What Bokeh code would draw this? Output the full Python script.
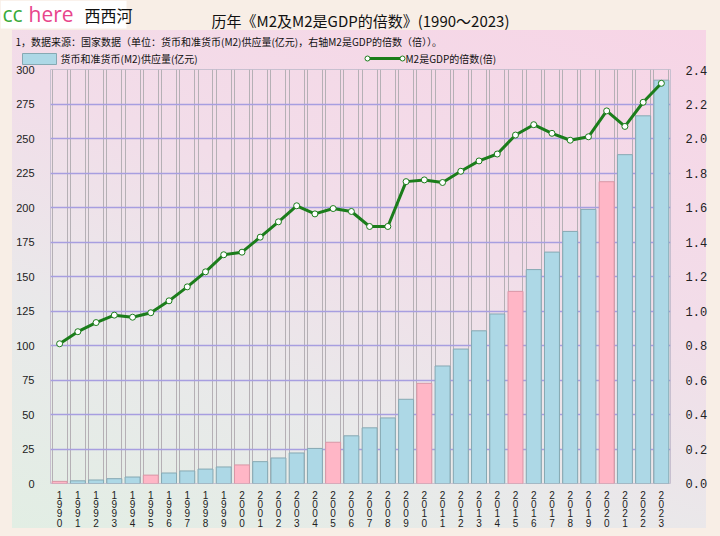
from bokeh.plotting import figure
from bokeh.layouts import column
from bokeh.models import Range1d, LinearAxis, FixedTicker, ColumnDataSource
from bokeh.core.properties import value
from bokeh.embed import file_html
from bokeh.resources import INLINE

years = list(range(1990, 2024))
m2 = [1.53, 1.93, 2.54, 3.49, 4.69, 6.08, 7.60, 9.10, 10.45, 11.99,
      13.46, 15.83, 18.50, 22.12, 25.41, 29.88, 34.56, 40.34, 47.52, 61.02,
      72.59, 85.16, 97.42, 110.65, 122.84, 139.23, 155.01, 167.68, 182.67, 198.65,
      218.68, 238.29, 266.43, 292.27]
ratio = [0.81, 0.88, 0.933, 0.976, 0.964, 0.99, 1.059, 1.14, 1.227, 1.326,
         1.341, 1.428, 1.517, 1.61, 1.563, 1.594, 1.577, 1.49, 1.49, 1.75,
         1.76, 1.745, 1.81, 1.87, 1.91, 2.02, 2.08, 2.03, 1.99, 2.01,
         2.16, 2.07, 2.21, 2.32]
left_ticks = list(range(0, 301, 25))
right_ticks = [0.0, 0.2, 0.4, 0.6, 0.8, 1.0, 1.2, 1.4, 1.6, 1.8, 2.0, 2.2, 2.4]

title_text = "历年《M2及M2是GDP的倍数》(1990～2023)"
note_text = "1，数据来源：国家数据（单位：货币和准货币(M2)供应量(亿元)，右轴M2是GDP的倍数（倍））。"
bar_name = "货币和准货币(M2)供应量(亿元)"
line_name = "M2是GDP的倍数(倍)"

BLUE = "#add8e6"
PINK = "#ffb6c6"
GREEN = "#1b7d1b"
PAGE = "#f8eee6"
PANEL = "linear-gradient(200deg, #f7d5e6 0%, #f2dde9 40%, #e9e9ea 70%, #e2eee4 100%)"
CJK = "Noto Sans CJK SC"

HEAD_H = 65
MAIN_H = 536 - HEAD_H

# ---------------- header (title, note, legend, watermark) ----------------
h = figure(width=720, height=HEAD_H, output_backend="svg", toolbar_location=None,
           x_range=Range1d(0, 720), y_range=Range1d(HEAD_H, 0),
           x_axis_location=None, y_axis_location=None,
           min_border=0, min_border_left=0, min_border_right=0,
           min_border_top=0, min_border_bottom=0)
h.frame_align = False
h.grid.visible = False
h.outline_line_color = None
h.border_fill_color = None
h.background_fill_color = None
h.styles = {"background": f"{PANEL} 12px 30px / 694px 498px no-repeat, {PAGE}"}

h.text(x=[360], y=[20], text=[title_text], text_align="center", text_baseline="middle",
       text_font=value(CJK), text_font_size="15px", text_color="#111111")
h.text(x=[15], y=[41], text=[note_text], text_align="left", text_baseline="middle",
       text_font=value(CJK), text_font_size="10px", text_color="#111111")

# legend
h.quad(left=[22], right=[56], top=[53], bottom=[64], fill_color=BLUE, line_color="#86a9b3")
h.text(x=[60], y=[58], text=[bar_name], text_align="left", text_baseline="middle",
       text_font=value(CJK), text_font_size="10px", text_color="#111111")
h.line(x=[367, 402], y=[58, 58], line_color=GREEN, line_width=3)
h.scatter(x=[367, 402], y=[58, 58], size=5, marker="circle", fill_color="white",
          line_color=GREEN, line_width=1)
h.text(x=[405], y=[58], text=[line_name], text_align="left", text_baseline="middle",
       text_font=value(CJK), text_font_size="10px", text_color="#111111")

# watermark
h.quad(left=[0], right=[126], top=[0], bottom=[28], fill_color="white", line_color=None)
h.text(x=[2], y=[13], text=["cc"], text_baseline="middle", text_font=value("Open Sans"),
       text_font_size="21px", text_color="#3aaa3a")
h.text(x=[28], y=[13], text=["here"], text_baseline="middle", text_font=value("Open Sans"),
       text_font_size="21px", text_color="#e8458b")
h.text(x=[84], y=[14], text=["西西河"], text_baseline="middle", text_font=value(CJK),
       text_font_size="16px", text_color="#111111")

# ---------------- main chart ----------------
colors = [PINK if y % 5 == 0 else BLUE for y in years]
lcolors = ["#d996a6" if y % 5 == 0 else "#86a9b3" for y in years]
src = ColumnDataSource(dict(x=years, top=m2, color=colors, lcolor=lcolors))
lsrc = ColumnDataSource(dict(x=years, r=ratio))

p = figure(width=720, height=MAIN_H, output_backend="svg", toolbar_location=None,
           x_range=Range1d(years[0] - 0.5, years[-1] + 0.5),
           y_range=Range1d(0, 300),
           min_border_left=50, min_border_right=50, min_border_top=69 - HEAD_H,
           min_border_bottom=53)
p.frame_align = False
p.extra_y_ranges = {"r": Range1d(0, 2.4)}
p.border_fill_color = None
p.background_fill_color = None
p.outline_line_color = "#c8c0d0"
p.styles = {"background": f"{PANEL} 12px {30 - HEAD_H}px / 694px 498px no-repeat, {PAGE}"}

bw = 0.82
p.vbar(x="x", top="top", width=bw, source=src, fill_color="color",
       line_color="lcolor", line_width=1)
p.line(x="x", y="r", source=lsrc, y_range_name="r", line_color=GREEN, line_width=3)
p.scatter(x="x", y="r", source=lsrc, y_range_name="r", size=6, marker="circle",
          fill_color="white", line_color=GREEN, line_width=1)

# grids
p.ygrid.ticker = FixedTicker(ticks=left_ticks)
p.ygrid.grid_line_color = "#a79ee0"
p.ygrid.grid_line_width = 1.5
edges = [y - bw / 2 for y in years] + [y + bw / 2 for y in years]
p.xgrid.ticker = FixedTicker(ticks=edges)
p.xgrid.grid_line_color = "#b5b0b5"
p.xgrid.grid_line_width = 1

# axes
xa = p.xaxis[0]
xa.ticker = FixedTicker(ticks=years)
xa.major_label_overrides = {y: "\n".join(str(y)) for y in years}
xa.major_label_text_font = "Liberation Sans"
xa.major_label_text_font_size = "10px"
xa.major_label_text_line_height = 0.85
xa.major_label_text_color = "#222222"
xa.major_label_standoff = 0

ya = p.yaxis[0]
ya.ticker = FixedTicker(ticks=left_ticks)
ya.major_label_text_font = "Liberation Sans"
ya.major_label_text_font_size = "11px"
ya.major_label_text_color = "#222222"
ya.major_label_standoff = 10

ra = LinearAxis(y_range_name="r", ticker=FixedTicker(ticks=right_ticks))
ra.major_label_overrides = {t: f"{t:.1f}" for t in right_ticks}
ra.major_label_text_font = "Liberation Mono"
ra.major_label_text_font_size = "12px"
ra.major_label_text_color = "#222222"
ra.major_label_standoff = 9
p.add_layout(ra, "right")

for ax in [xa, ya, ra]:
    ax.axis_line_color = None
    ax.major_tick_line_color = None
    ax.minor_tick_line_color = None

page = column(h, p, spacing=0)
open("out.html", "w").write(file_html(page, INLINE))
